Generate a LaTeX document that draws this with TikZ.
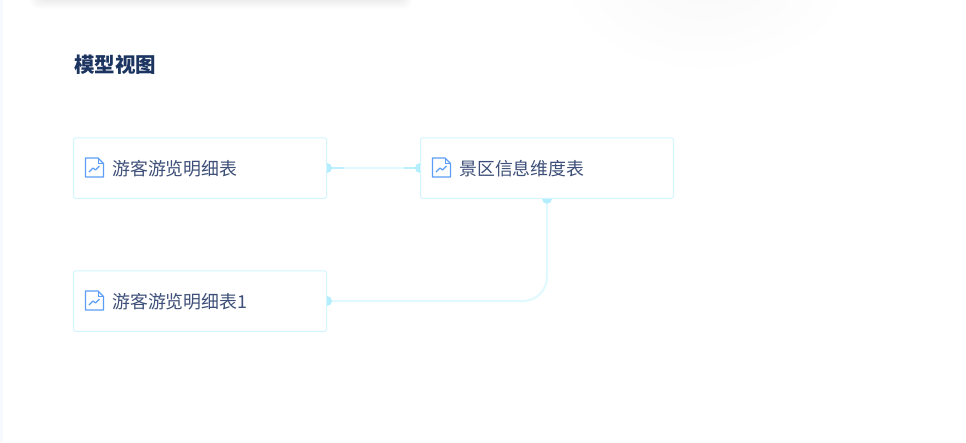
\documentclass[tikz,border=0pt]{standalone}
\usepackage{fontspec}
\setmainfont{Noto Sans CJK SC}
\usetikzlibrary{positioning}
\usetikzlibrary{calc}
\usetikzlibrary{backgrounds}
\definecolor{boxline}{HTML}{D2F5FF}
\definecolor{edgelight}{HTML}{DFF9FF}
\definecolor{edgedark}{HTML}{BDF0FF}
\definecolor{portfill}{HTML}{B3EEFF}
\definecolor{labeltext}{HTML}{3D4F78}
\definecolor{titletext}{HTML}{1B3460}
\definecolor{iconblue}{HTML}{5C9DF6}
\definecolor{stripfill}{HTML}{F7F9FF}
\tikzstyle{tablebox}=[rectangle,rounded corners=2pt,draw=boxline,line width=1pt,fill=white,minimum width=253pt,minimum height=60.5pt,inner sep=0pt]
\tikzstyle{tablelabel}=[font=\fontsize{17.9}{20}\selectfont,text=labeltext,inner sep=0pt]
\tikzstyle{title}=[font=\fontsize{20.5}{24}\selectfont\bfseries,text=titletext,inner sep=0pt]
\tikzstyle{edge} = [draw=edgelight,line width=2pt]
\tikzstyle{edgeend} = [draw=edgedark,line width=2pt]
\tikzstyle{port} = [circle,fill=portfill,minimum size=10pt,inner sep=0pt]
\tikzset{charticon/.pic={
    \draw[iconblue,line width=1.4pt,line join=round] (0,-9.5) -- (12.5,-9.5) -- (18,-4) -- (18,9.5) -- (0,9.5) -- cycle;
    \draw[iconblue,line width=1pt] (12.5,-9.5) -- (12.5,-4) -- (18,-4);
    \draw[iconblue,line width=1.2pt,line join=round] (3.5,4.5) -- (7.5,0.5) -- (10,2.5) -- (14,-1.5);
}}

\begin{document}
\begin{tikzpicture}[x=1pt,y=-1pt]
    \useasboundingbox (0,0) rectangle (966,442);

    % page furniture
    \fill[stripfill] (0,0) rectangle (3,442);
    \foreach \grow in {1,2,...,10}
        \fill[black,opacity=0.006,rounded corners=8pt] (40-\grow,-20) rectangle (402+\grow,\grow-1);
    \shade[inner color=black!2.5,outer color=white] (705,-25) ellipse (150 and 100);

    \node[title,anchor=west] (heading) at (74,65) {模型视图};

    \foreach \pos/\name/\label in {{(200,168)/detail/游客游览明细表}, {(547,168)/scenic/景区信息维度表}, {(200,301)/detailone/游客游览明细表1}}
    {
        \node[tablebox] (\name) at \pos {};
        \node[tablelabel,right=39pt of \name.west,yshift=-1pt] (\name label) {\label};
        \coordinate[right=12.5pt of \name.west] (\name icon);
        \pic at ($(\name icon)+(0,-0.5)$) {charticon};
    }

    \begin{pgfonlayer}{background}
        \path[edge] (detail.east) -- (scenic.west);
        \path[edgeend] (detail.east) -- ($(detail.east)+(17,0)$);
        \path[edgeend] ($(scenic.west)+(-16,0)$) -- (scenic.west);
        \path[edge,rounded corners=24pt] (detailone.east) -| (scenic.south);

        \foreach \dest in {detail.east, scenic.west, detailone.east, scenic.south}
            \node[port] (port \dest) at (\dest) {};
    \end{pgfonlayer}
\end{tikzpicture}
\end{document}
